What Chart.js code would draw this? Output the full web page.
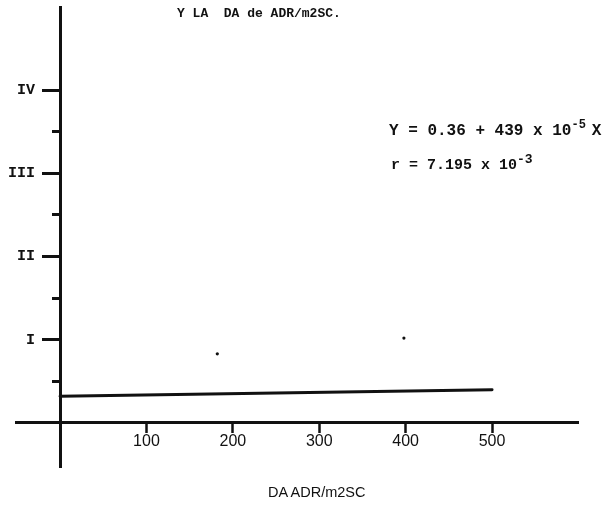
<!DOCTYPE html>
<html><head><meta charset="utf-8">
<script src="https://cdn.jsdelivr.net/npm/chart.js@4.4.1/dist/chart.umd.min.js"></script>
<style>
html,body{margin:0;padding:0;background:#fff;}
#wrap{position:relative;width:604px;height:509px;overflow:hidden;background:#fff;}
#c{position:absolute;left:0;top:0;}
.t{position:absolute;white-space:pre;color:#111;line-height:1;}
.mono{font-family:'Liberation Mono','Courier New',monospace;font-weight:bold;}
.sans{font-family:'Liberation Sans',Arial,sans-serif;}
.sup{position:relative;font-size:12px;}
.thin{font-size:10px;}
</style></head><body>
<div id="wrap">
<canvas id="c" width="604" height="509"></canvas>
<div class="t mono" id="title" style="left:177px;top:7px;font-size:13px;">Y LA  DA de ADR/m2SC.</div>
<div class="t mono" id="eq1" style="left:389px;top:123px;font-size:16px;">Y = 0.36 + 439 x 10<span class="sup" style="top:-7px;">-5</span><span class="thin"> </span>X</div>
<div class="t mono" id="eq2" style="left:391px;top:158px;font-size:15px;">r = 7.195 x 10<span class="sup" style="top:-6px;font-size:13px;">-3</span></div>
<div class="t sans" id="xtitle" style="left:268px;top:485px;font-size:14.5px;">DA ADR/m2SC</div>
</div>
<script>
// ---- data ----
const xTickValues = [100, 200, 300, 400, 500];
const yMajorValues = [1, 2, 3, 4];
const yMajorLabels = ['I', 'II', 'III', 'IV'];
const yMinorValues = [0.5, 1.5, 2.5, 3.5];
const fitX = [0, 500];
const fitY = [0.32, 0.40];
const obsX = [182, 398];
const obsY = [0.83, 1.02];

const INK = '#111';
const noPad = s => { s.paddingLeft = 0; s.paddingRight = 0; s.paddingTop = 0; s.paddingBottom = 0; };
const Y_MIN = -0.53, Y_MAX = 5.0;

new Chart(document.getElementById('c'), {
  type: 'scatter',
  data: {
    datasets: [
      {
        label: 'regresión',
        data: fitX.map((x, i) => ({x: x, y: fitY[i]})),
        showLine: true,
        borderColor: INK,
        borderWidth: 3,
        borderCapStyle: 'round',
        pointRadius: 0,
        fill: false
      },
      {
        label: 'observaciones',
        data: obsX.map((x, i) => ({x: x, y: obsY[i]})),
        pointRadius: 1.6,
        pointBackgroundColor: INK,
        pointBorderWidth: 0
      }
    ]
  },
  options: {
    responsive: false,
    devicePixelRatio: 1,
    animation: false,
    layout: {padding: {left: 16, right: 26, top: 7, bottom: 42}},
    plugins: {legend: {display: false}, tooltip: {enabled: false}, title: {display: false}},
    scales: {
      x: {
        type: 'linear', min: -51, max: 599.5,
        position: {y: 0},
        afterBuildTicks: s => { s.ticks = xTickValues.map(v => ({value: v})); },
        afterFit: noPad,
        ticks: {color: INK, font: {family: 'Liberation Sans', size: 16}, padding: 0, maxRotation: 0, autoSkip: false},
        grid: {drawOnChartArea: false, drawTicks: true, tickLength: 9, tickWidth: 2.5, tickColor: INK},
        border: {display: true, color: INK, width: 3}
      },
      y: {
        type: 'linear', min: Y_MIN, max: Y_MAX,
        position: {x: 0},
        afterBuildTicks: s => { s.ticks = yMajorValues.map(v => ({value: v})); },
        afterFit: noPad,
        ticks: {display: false},
        grid: {drawOnChartArea: false, drawTicks: true, tickLength: 17, tickWidth: 3, tickColor: INK},
        border: {display: true, color: INK, width: 3}
      },
      yMinor: {
        type: 'linear', min: Y_MIN, max: Y_MAX,
        position: {x: 0},
        afterBuildTicks: s => { s.ticks = yMinorValues.map(v => ({value: v})); },
        afterFit: noPad,
        ticks: {display: false},
        grid: {drawOnChartArea: false, drawTicks: true, tickLength: 8, tickWidth: 3, tickColor: INK},
        border: {display: false}
      },
      yLabels: {
        type: 'linear', min: Y_MIN, max: Y_MAX,
        position: 'left',
        afterBuildTicks: s => { s.ticks = yMajorValues.map(v => ({value: v})); },
        afterFit: s => { noPad(s); s.width = 0; },
        ticks: {color: INK, font: {family: 'Liberation Mono', size: 15, weight: 'bold'},
                mirror: true, crossAlign: 'far', padding: -8, autoSkip: false,
                callback: (v, i) => yMajorLabels[i]},
        grid: {display: false, drawTicks: false},
        border: {display: false}
      }
    }
  }
});
</script>
</body></html>
